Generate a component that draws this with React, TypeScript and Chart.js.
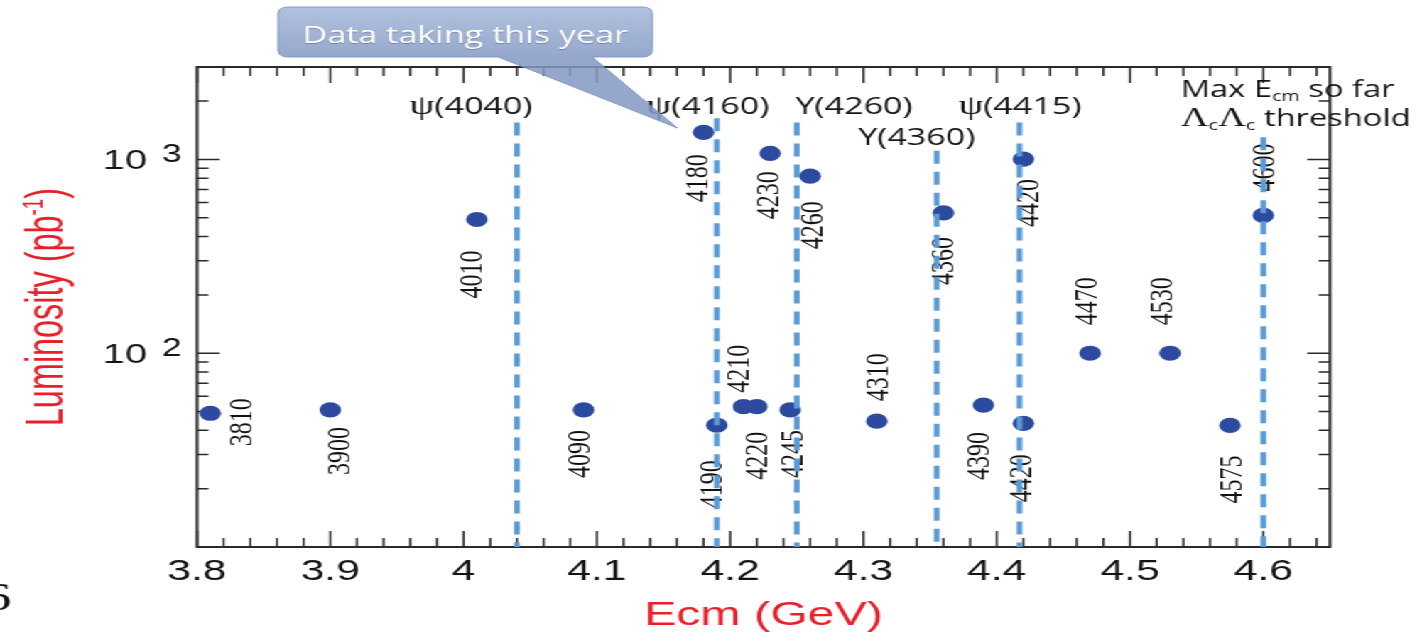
import { useEffect, useRef } from "react";
import { Chart, registerables } from "chart.js";

Chart.register(...registerables);

// ---------------- data ----------------
const energies = [3.81, 3.9, 4.01, 4.09, 4.18, 4.19, 4.21, 4.22, 4.23, 4.245, 4.26, 4.31, 4.36, 4.39, 4.42, 4.42, 4.47, 4.53, 4.575, 4.6];
const luminosities = [49, 51, 490, 51, 1380, 42.5, 53, 53, 1075, 51, 820, 44.6, 530, 54, 1005, 43.5, 100, 100, 42.4, 514];
const pointLabels = ["3810", "3900", "4010", "4090", "4180", "4190", "4210", "4220", "4230", "4245", "4260", "4310", "4360", "4390", "4420", "4420", "4470", "4530", "4575", "4600"];

const resonanceEnergies = [4.04, 4.19, 4.25, 4.355, 4.417, 4.6];
const resonanceLineTops = [1550, 1630, 1550, 1110, 1550, 1300];
const resonanceNames = ["ψ(4040)", "ψ(4160)", "Y(4260)", "Y(4360)", "ψ(4415)"];

const xTickValues = [3.8, 3.9, 4.0, 4.1, 4.2, 4.3, 4.4, 4.5, 4.6];
const xTickLabels = ["3.8", "3.9", "4", "4.1", "4.2", "4.3", "4.4", "4.5", "4.6"];
const yTickValues = [100, 1000];
const yTickExponents = ["2", "3"];

const xTitle = "Ecm (GeV)";
const yTitle = "Luminosity (pb";
const calloutText = "Data taking this year";

// ---------------- layout / style (not data) ----------------
// label offsets in px relative to each point: [dx, dy]
const labelOffsets: [number, number][] = [
  [22, 9], [6, 41], [-4, 55], [-3, 44], [-5, 46], [-3.5, 59], [-4, -38], [0, 49], [-1.5, 42], [1, 44],
  [1, 49], [0, -44], [0, 48], [-4, 51], [3.5, 44], [-2, 55], [-3, -52], [-6, -52], [1, 54], [0, -48],
];
// resonance label anchors (centre x in GeV, baseline in pb^-1)
const resonanceLabelX = [4.0056, 4.1833, 4.2929, 4.34, 4.4174];
const resonanceLabelY = [1726, 1726, 1726, 1181, 1726];
const noteX = 4.538;
const noteY = [2090, 1496];

const W = 1001;
const SX = 1422 / W;
const H = 632;

const SANS = "'Open Sans', Lato, sans-serif";
const ARIAL = "'Liberation Sans', Arial, Helvetica, sans-serif";
const SERIF = "'Liberation Serif', 'Times New Roman', serif";
const RED = "#e8202a";
const DARK = "#141414";

type Run = { t: string; font: string; dy?: number };

function drawRuns(ctx: CanvasRenderingContext2D, runs: Run[], x: number, y: number, align: "left" | "center") {
  let total = 0;
  const widths: number[] = [];
  for (const r of runs) {
    ctx.font = r.font;
    const w = ctx.measureText(r.t).width;
    widths.push(w);
    total += w;
  }
  let cx = align === "center" ? x - total / 2 : x;
  ctx.textAlign = "left";
  runs.forEach((r, i) => {
    ctx.font = r.font;
    ctx.fillText(r.t, cx, y + (r.dy || 0));
    cx += widths[i];
  });
}

const annotPlugin = {
  id: "annot",
  beforeDatasetsDraw(chart: any) {
    const { ctx, chartArea: a, scales } = chart;
    const xs = scales.x;
    const ys = scales.y;
    ctx.save();

    // frame
    ctx.strokeStyle = "#2a2a2a";
    ctx.lineWidth = 2;
    ctx.strokeRect(a.left, a.top, a.right - a.left, a.bottom - a.top);

    // x ticks (inside, top and bottom)
    ctx.lineWidth = 1.5;
    ctx.beginPath();
    for (let i = 0; i <= 42; i++) {
      const v = 3.8 + i * 0.02;
      const px = xs.getPixelForValue(v);
      const len = i % 5 === 0 ? 16 : 9;
      ctx.moveTo(px, a.bottom);
      ctx.lineTo(px, a.bottom - len);
      ctx.moveTo(px, a.top);
      ctx.lineTo(px, a.top + len);
    }
    // y ticks (inside, left and right)
    for (const dec of [10, 100, 1000]) {
      for (let m = 1; m <= 9; m++) {
        const v = m * dec;
        if (v > 3000 || v === 10) continue;
        const py = ys.getPixelForValue(v);
        const len = m === 1 ? 16 : 8;
        ctx.moveTo(a.left, py);
        ctx.lineTo(a.left + len, py);
        ctx.moveTo(a.right, py);
        ctx.lineTo(a.right - len, py);
      }
    }
    ctx.stroke();

    // x tick labels
    ctx.fillStyle = DARK;
    ctx.textBaseline = "alphabetic";
    ctx.textAlign = "center";
    ctx.font = `30px ${ARIAL}`;
    xTickValues.forEach((v, i) => {
      ctx.fillText(xTickLabels[i], xs.getPixelForValue(v), 580);
    });

    // y tick labels 10^n
    yTickValues.forEach((v, i) => {
      const py = ys.getPixelForValue(v);
      ctx.font = `28px ${ARIAL}`;
      ctx.textAlign = "right";
      ctx.fillText("10", 103.5, py + 10);
      ctx.font = `25px ${ARIAL}`;
      ctx.textAlign = "left";
      ctx.fillText(yTickExponents[i], 114, py + 3);
    });

    // axis titles
    ctx.fillStyle = RED;
    ctx.save();
    ctx.translate(44, 307);
    ctx.rotate(-Math.PI / 2);
    ctx.scale(0.9, 1);
    drawRuns(ctx, [
      { t: yTitle, font: `36px ${ARIAL}` },
      { t: "-1", font: `21px ${ARIAL}`, dy: -14 },
      { t: ")", font: `36px ${ARIAL}` },
    ], 0, 0, "center");
    ctx.restore();

    ctx.font = `34px ${ARIAL}`;
    ctx.textAlign = "center";
    ctx.fillText(xTitle, (a.left + a.right) / 2, 625);

    // point labels (rotated)
    ctx.fillStyle = "#111";
    ctx.font = `24px ${SERIF}`;
    ctx.textAlign = "center";
    ctx.textBaseline = "middle";
    energies.forEach((e, i) => {
      const px = xs.getPixelForValue(e) + labelOffsets[i][0];
      const py = ys.getPixelForValue(luminosities[i]) + labelOffsets[i][1];
      ctx.save();
      ctx.translate(px, py);
      ctx.rotate(-Math.PI / 2);
      ctx.fillText(pointLabels[i], 0, 1);
      ctx.restore();
    });

    // stray page number at left edge
    ctx.textBaseline = "alphabetic";
    ctx.textAlign = "right";
    ctx.font = `40px ${SERIF}`;
    ctx.fillStyle = "#111";
    ctx.fillText("6", 8, 610);

    ctx.restore();
  },
  afterDraw(chart: any) {
    const { ctx, scales } = chart;
    const xs = scales.x;
    const ys = scales.y;
    ctx.save();
    ctx.fillStyle = DARK;
    ctx.textBaseline = "alphabetic";

    resonanceNames.forEach((n, i) => {
      const px = xs.getPixelForValue(resonanceLabelX[i]);
      const py = ys.getPixelForValue(resonanceLabelY[i]);
      const runs: Run[] = n.startsWith("ψ")
        ? [{ t: "ψ", font: `28px ${SERIF}` }, { t: n.slice(1), font: `24px ${SANS}` }]
        : [{ t: n, font: `24px ${SANS}` }];
      drawRuns(ctx, runs, px, py, "center");
    });

    const nx = xs.getPixelForValue(noteX);
    drawRuns(ctx, [
      { t: "Max E", font: `23px ${SANS}` },
      { t: "cm", font: `14px ${SANS}`, dy: 4 },
      { t: " so far", font: `23px ${SANS}` },
    ], nx, ys.getPixelForValue(noteY[0]), "left");
    drawRuns(ctx, [
      { t: "Λ", font: `27px ${SERIF}` },
      { t: "c", font: `14px ${SANS}`, dy: 4 },
      { t: "Λ", font: `27px ${SERIF}` },
      { t: "c", font: `14px ${SANS}`, dy: 4 },
      { t: " threshold", font: `23px ${SANS}` },
    ], nx, ys.getPixelForValue(noteY[1]), "left");

    // callout
    const L = 195.8, R = 459.2, T = 7, B = 57, r = 7;
    const tl = 350.7, tr = 416.9, tipX = 476.8, tipY = 128;
    ctx.save();
    ctx.globalAlpha = 0.85;
    const g = ctx.createLinearGradient(0, T, 0, B);
    g.addColorStop(0, "#a4b7d9");
    g.addColorStop(1, "#8399c4");
    ctx.beginPath();
    ctx.moveTo(L + r, T);
    ctx.lineTo(R - r, T);
    ctx.quadraticCurveTo(R, T, R, T + r);
    ctx.lineTo(R, B - r);
    ctx.quadraticCurveTo(R, B, R - r, B);
    ctx.lineTo(tr, B);
    ctx.lineTo(tipX, tipY);
    ctx.lineTo(tl, B);
    ctx.lineTo(L + r, B);
    ctx.quadraticCurveTo(L, B, L, B - r);
    ctx.lineTo(L, T + r);
    ctx.quadraticCurveTo(L, T, L + r, T);
    ctx.closePath();
    ctx.fillStyle = g;
    ctx.fill();
    ctx.strokeStyle = "#7791c2";
    ctx.lineWidth = 1;
    ctx.stroke();
    ctx.restore();

    ctx.fillStyle = "#ffffff";
    ctx.font = `24px ${SANS}`;
    ctx.textAlign = "center";
    ctx.shadowColor = "rgba(0,0,0,0.25)";
    ctx.shadowOffsetY = 1;
    ctx.shadowBlur = 1;
    ctx.fillText(calloutText, (L + R) / 2, 43);
    ctx.restore();
  },
};

export default function App() {
  const ref = useRef<HTMLCanvasElement>(null);
  useEffect(() => {
    const canvas = ref.current;
    if (!canvas) return;
    const lineSets = resonanceEnergies.map((e, i) => ({
      type: "line" as const,
      data: [{ x: e, y: resonanceLineTops[i] }, { x: e, y: 10 }],
      borderColor: "#5b9bd5",
      borderWidth: 4,
      borderDash: [13, 8],
      pointRadius: 0,
      fill: false,
      order: 0,
      clip: false as any,
    }));
    const chart = new Chart(canvas, {
      type: "scatter",
      data: {
        datasets: [
          ...lineSets,
          {
            type: "scatter" as const,
            data: energies.map((e, i) => ({ x: e, y: luminosities[i] })),
            backgroundColor: "#2d4b9e",
            borderWidth: 0,
            pointRadius: 7.6,
            pointHoverRadius: 7.6,
            order: 1,
          },
        ],
      } as any,
      options: {
        animation: false,
        responsive: true,
        maintainAspectRatio: false,
        events: [],
        layout: { padding: { left: 197 / SX, right: W - 1330 / SX, top: 67, bottom: H - 547 } },
        scales: {
          x: { type: "linear", min: 3.8, max: 4.65, display: false },
          y: { type: "logarithmic", min: 10, max: 3000, display: false },
        },
        plugins: { legend: { display: false }, tooltip: { enabled: false } },
      },
      plugins: [annotPlugin],
    });
    return () => chart.destroy();
  }, []);
  return (
    <div
      style={{
        position: "absolute",
        left: 0,
        top: 0,
        width: W,
        height: H,
        transform: `scaleX(${SX})`,
        transformOrigin: "0 0",
        background: "#fff",
      }}
    >
      <canvas ref={ref} />
    </div>
  );
}
